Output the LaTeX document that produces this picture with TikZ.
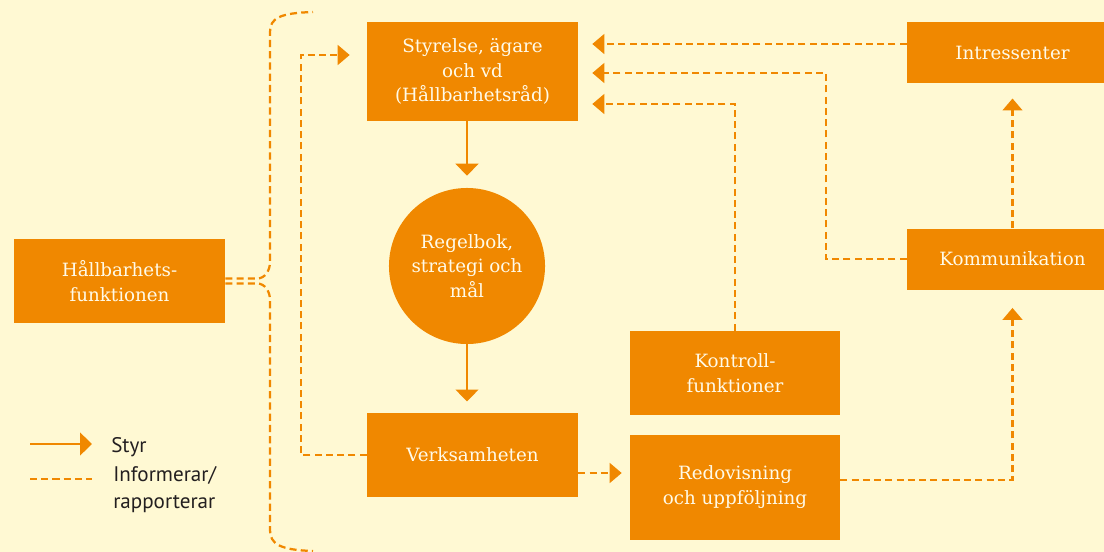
\documentclass[tikz,border=0pt]{standalone}
\usepackage{fontspec}
\setmainfont{DejaVu Serif}
\newfontfamily\legfont{PT Sans}
\usetikzlibrary{positioning, arrows.meta}
\definecolor{bgcream}{RGB}{255,249,211}
\definecolor{mainorange}{RGB}{240,136,0}
\definecolor{boxtext}{RGB}{255,250,232}
\definecolor{legtextcol}{RGB}{35,31,32}

\begin{document}
\begin{tikzpicture}[
  x=0.025cm, y=-0.025cm,
  box/.style={fill=mainorange, text=boxtext, align=center, inner sep=0pt,
              font=\fontsize{13}{17.5}\selectfont, minimum width=5.275cm, minimum height=2.1cm},
  goal/.style={circle, fill=mainorange, text=boxtext, align=center, inner sep=0pt,
               font=\fontsize{13}{17.5}\selectfont, minimum size=3.9cm},
  styr/.style={draw=mainorange, line width=2pt, -{Triangle[length=8.5pt, width=16pt]}},
  info/.style={draw=mainorange, line width=1.6pt, dash pattern=on 5pt off 3pt,
               -{Triangle[length=8.5pt, width=14pt]}},
  infoline/.style={draw=mainorange, line width=1.6pt, dash pattern=on 5pt off 3pt},
  legtext/.style={anchor=west, inner sep=0pt, text=legtextcol, align=left,
                  font=\legfont\fontsize{15}{19}\selectfont}
]
  \fill[bgcream] (0,0) rectangle (1104,552);
  \useasboundingbox (0,0) rectangle (1104,552);

  \node[box, minimum height=2.475cm] (styrelse) at (472.5,71.5) {Styrelse, ägare\\och vd\\(Hållbarhetsråd)};
  \node[goal] (regel) at (467,266) {Regelbok,\\strategi och\\mål};
  \node[box] (verks) at (472.5,455) {Verksamheten};
  \node[box] (hallb) at (119.5,281) {Hållbarhets-\\funktionen};
  \node[box, minimum width=5.25cm] (kontroll) at (735,373) {Kontroll-\\funktioner};
  \node[box, minimum width=5.25cm, minimum height=2.625cm, below=0.475cm of kontroll] (redov) {Redovisning\\och uppföljning};
  \node[box, minimum height=1.525cm] (intr) at (1012.5,52.5) {Intressenter};
  \node[box, minimum height=1.525cm, below=3.625cm of intr] (komm) {Kommunikation};

  \draw[styr, shorten >=0.3cm] (styrelse.south -| regel.north) -- (regel.north);
  \draw[styr, shorten >=0.28cm] (regel.south) -- (regel.south |- verks.north);

  \draw[info, shorten >=0.35cm] (intr.west |- 0,44) -- (styrelse.east |- 0,44);
  \draw[info, shorten >=0.35cm] (komm.west) -| (826,73) -- (styrelse.east |- 0,73);
  \draw[info, shorten >=0.35cm] (kontroll.north) |- (styrelse.east |- 0,104);
  \draw[info, shorten >=0.38cm] (komm.north) -- (intr.south);
  \draw[info, shorten >=0.45cm] (redov.east |- 0,480) -| (komm.south);
  \draw[info, shorten >=0.2cm] (verks.east |- 0,473) -- (redov.west |- 0,473);
  \draw[info, shorten >=0.425cm] (verks.west) -| (301,55) -- (styrelse.west |- 0,55);

  \coordinate (braceup) at (313,12);
  \coordinate (bracedown) at (313,551);
  \draw[infoline] ([yshift=1.8pt]hallb.east) -- ++(32,0)
    .. controls +(8,0) and (270,270) .. (270,262) -- (270,32)
    .. controls (270,18) and (280,13) .. (braceup);
  \draw[infoline] ([yshift=-1.8pt]hallb.east) -- ++(32,0)
    .. controls +(8,0) and (270,292) .. (270,300) -- (270,530)
    .. controls (270,544) and (280,550) .. (bracedown);

  \node[legtext] (legstyr) at (111,447) {Styr};
  \node[legtext, anchor=north west] (leginfo) at (113,466) {Informerar/\\rapporterar};
  \coordinate (legA) at (30,444);
  \coordinate (legB) at (30,479);
  \draw[styr] (legA) -- (legA -| 92,0);
  \draw[infoline] (legB) -- (legB -| 92,0);
\end{tikzpicture}
\end{document}
